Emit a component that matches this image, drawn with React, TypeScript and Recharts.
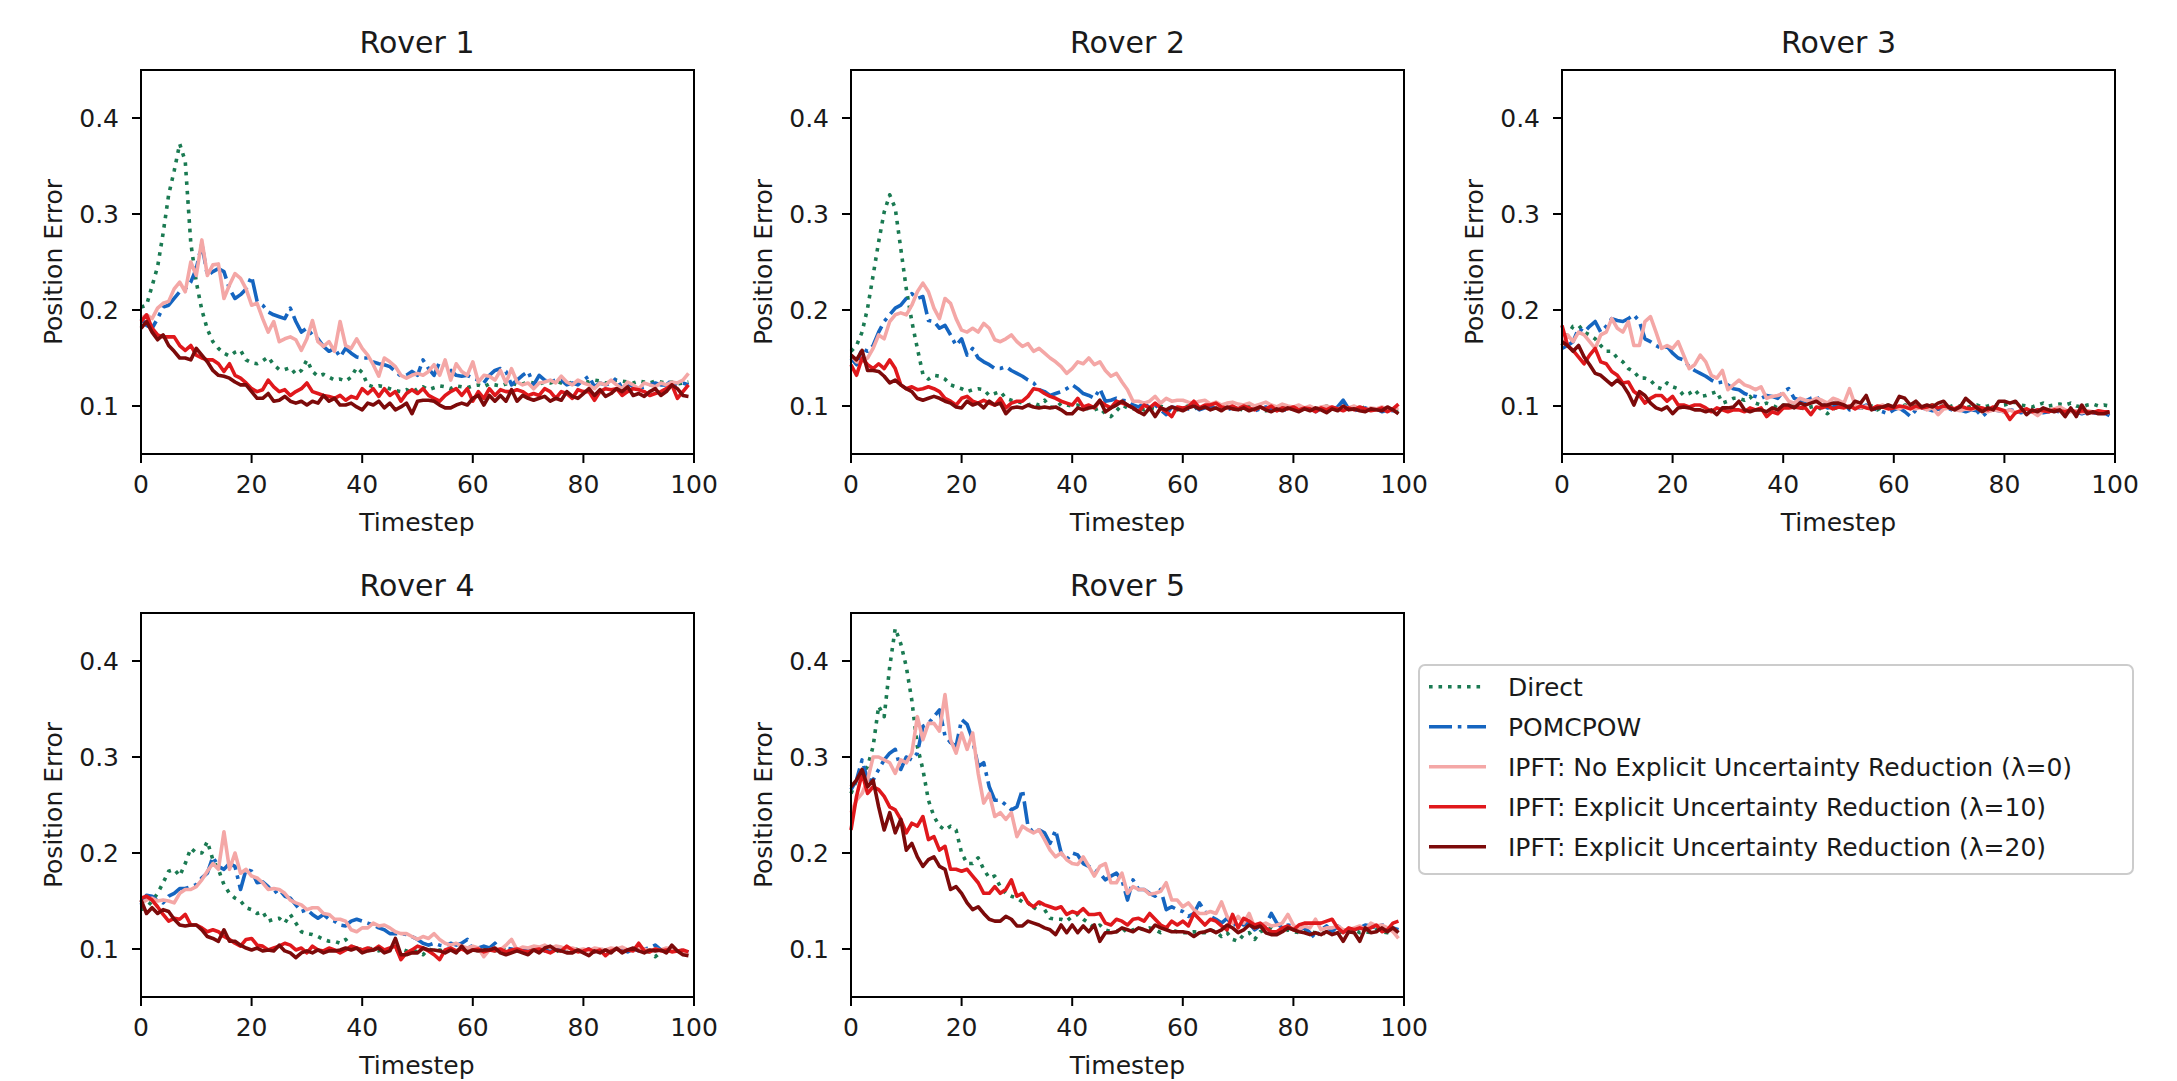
import React from 'react';
import { LineChart, Line, XAxis, YAxis, ReferenceArea } from 'recharts';

const timesteps: number[] = Array.from({ length: 100 }, (_, i) => i);
const xTicks = [0, 20, 40, 60, 80, 100];
const yTicks = [0.1, 0.2, 0.3, 0.4];
const roverTitles = ['Rover 1', 'Rover 2', 'Rover 3', 'Rover 4', 'Rover 5'];
const seriesNames = [
  'Direct',
  'POMCPOW',
  'IPFT: No Explicit Uncertainty Reduction (λ=0)',
  'IPFT: Explicit Uncertainty Reduction (λ=10)',
  'IPFT: Explicit Uncertainty Reduction (λ=20)',
];

// ---------- Rover 1 ----------
const r1Direct = [0.203,0.205,0.225,0.245,0.28,0.32,0.345,0.373,0.355,0.27, 0.229,0.2,0.18,0.167,0.16,0.155,0.152,0.156,0.158,0.148, 0.145,0.144,0.147,0.151,0.143,0.138,0.138,0.14,0.133,0.137, 0.148,0.136,0.131,0.133,0.13,0.127,0.128,0.126,0.13,0.14, 0.135,0.122,0.12,0.121,0.12,0.118,0.116,0.115,0.117,0.114, 0.118,0.12,0.117,0.119,0.121,0.12,0.118,0.121,0.12,0.119, 0.121,0.122,0.12,0.123,0.122,0.121,0.123,0.124,0.122,0.123, 0.125,0.124,0.123,0.125,0.124,0.126,0.124,0.123,0.125,0.124, 0.126,0.125,0.127,0.126,0.124,0.125,0.127,0.126,0.125,0.124, 0.126,0.125,0.124,0.126,0.125,0.124,0.125,0.123,0.124,0.125];
const r1Pomcpow = [0.191,0.184,0.181,0.191,0.203,0.205,0.212,0.219,0.222,0.229, 0.243,0.269,0.236,0.24,0.243,0.24,0.222,0.212,0.216,0.222, 0.235,0.209,0.205,0.198,0.195,0.193,0.191,0.202,0.188,0.177, 0.181,0.174,0.17,0.162,0.157,0.16,0.151,0.16,0.155,0.151, 0.15,0.15,0.146,0.144,0.143,0.141,0.136,0.131,0.132,0.136, 0.132,0.148,0.139,0.132,0.146,0.143,0.137,0.132,0.131,0.132, 0.129,0.127,0.124,0.132,0.137,0.139,0.136,0.122,0.127,0.132, 0.136,0.122,0.132,0.127,0.125,0.127,0.127,0.122,0.124,0.122, 0.127,0.131,0.12,0.124,0.122,0.124,0.129,0.118,0.124,0.12, 0.118,0.12,0.122,0.124,0.122,0.122,0.127,0.122,0.124,0.122];
const r1Ipft0 = [0.191,0.195,0.191,0.202,0.207,0.209,0.222,0.229,0.219,0.25, 0.236,0.273,0.236,0.247,0.248,0.212,0.226,0.238,0.233,0.222, 0.205,0.207,0.191,0.177,0.188,0.167,0.17,0.172,0.169,0.158, 0.17,0.189,0.167,0.162,0.167,0.157,0.188,0.163,0.16,0.17, 0.16,0.153,0.143,0.131,0.15,0.146,0.141,0.132,0.129,0.132, 0.134,0.132,0.136,0.143,0.132,0.148,0.127,0.144,0.136,0.132, 0.146,0.125,0.132,0.131,0.127,0.137,0.124,0.139,0.125,0.122, 0.124,0.118,0.124,0.125,0.127,0.124,0.131,0.125,0.122,0.127, 0.124,0.122,0.118,0.124,0.122,0.127,0.122,0.118,0.125,0.122, 0.118,0.124,0.122,0.12,0.124,0.122,0.125,0.124,0.127,0.134];
const r1Ipft10 = [0.188,0.195,0.181,0.174,0.172,0.172,0.172,0.163,0.158,0.163, 0.153,0.15,0.148,0.148,0.144,0.136,0.144,0.132,0.129,0.124, 0.118,0.115,0.117,0.127,0.12,0.115,0.117,0.111,0.115,0.118, 0.124,0.115,0.113,0.111,0.11,0.108,0.111,0.106,0.11,0.108, 0.118,0.113,0.118,0.11,0.118,0.111,0.115,0.105,0.113,0.117, 0.113,0.118,0.111,0.108,0.105,0.111,0.115,0.118,0.111,0.118, 0.105,0.115,0.108,0.118,0.111,0.117,0.115,0.115,0.117,0.115, 0.111,0.113,0.111,0.118,0.115,0.108,0.115,0.113,0.108,0.117, 0.115,0.115,0.106,0.115,0.118,0.117,0.118,0.111,0.115,0.118, 0.117,0.115,0.111,0.113,0.115,0.118,0.122,0.108,0.115,0.122];
const r1Ipft20 = [0.181,0.188,0.177,0.169,0.174,0.163,0.157,0.15,0.15,0.148, 0.16,0.153,0.146,0.137,0.132,0.131,0.129,0.125,0.122,0.122, 0.115,0.108,0.108,0.113,0.105,0.106,0.11,0.105,0.103,0.105, 0.101,0.105,0.103,0.111,0.105,0.108,0.101,0.101,0.103,0.099, 0.096,0.103,0.101,0.105,0.098,0.103,0.096,0.099,0.103,0.092, 0.105,0.106,0.106,0.105,0.101,0.098,0.098,0.101,0.103,0.101, 0.108,0.111,0.101,0.111,0.105,0.111,0.105,0.117,0.105,0.111, 0.108,0.106,0.108,0.11,0.105,0.108,0.106,0.115,0.11,0.108, 0.113,0.118,0.111,0.117,0.11,0.113,0.118,0.115,0.12,0.111, 0.113,0.11,0.115,0.118,0.111,0.115,0.122,0.118,0.111,0.11];

// ---------- Rover 2 ----------
const r2Direct = [0.157,0.163,0.177,0.202,0.236,0.271,0.302,0.32,0.306,0.264, 0.222,0.188,0.16,0.133,0.128,0.132,0.131,0.128,0.122,0.12, 0.118,0.115,0.117,0.118,0.117,0.111,0.113,0.115,0.108,0.106, 0.105,0.103,0.101,0.103,0.101,0.106,0.099,0.098,0.103,0.101, 0.1,0.101,0.098,0.097,0.096,0.098,0.092,0.089,0.095,0.101, 0.098,0.097,0.099,0.096,0.098,0.097,0.1,0.097,0.098,0.096, 0.098,0.1,0.097,0.099,0.1,0.096,0.1,0.098,0.097,0.098, 0.097,0.096,0.1,0.098,0.097,0.095,0.098,0.097,0.101,0.096, 0.098,0.097,0.095,0.099,0.098,0.097,0.1,0.096,0.098,0.097, 0.096,0.098,0.097,0.099,0.096,0.095,0.097,0.098,0.093,0.094];
const r2Pomcpow = [0.15,0.143,0.16,0.157,0.163,0.177,0.188,0.195,0.202,0.205, 0.212,0.217,0.212,0.214,0.189,0.188,0.181,0.184,0.174,0.163, 0.17,0.153,0.16,0.15,0.146,0.143,0.139,0.139,0.141,0.137, 0.134,0.131,0.127,0.124,0.117,0.115,0.111,0.113,0.115,0.118, 0.122,0.118,0.113,0.111,0.108,0.118,0.105,0.106,0.108,0.106, 0.105,0.101,0.099,0.103,0.098,0.101,0.096,0.091,0.099,0.098, 0.099,0.097,0.1,0.096,0.098,0.1,0.097,0.099,0.096,0.098, 0.097,0.099,0.096,0.095,0.097,0.099,0.096,0.098,0.097,0.095, 0.098,0.096,0.097,0.099,0.094,0.097,0.098,0.096,0.099,0.106, 0.097,0.095,0.097,0.098,0.096,0.097,0.094,0.096,0.095,0.097];
const r2Ipft0 = [0.153,0.146,0.146,0.15,0.16,0.174,0.17,0.188,0.195,0.197, 0.195,0.205,0.219,0.228,0.219,0.202,0.191,0.212,0.207,0.191, 0.179,0.177,0.181,0.177,0.186,0.181,0.169,0.167,0.17,0.174, 0.167,0.162,0.165,0.157,0.16,0.155,0.15,0.146,0.141,0.134, 0.139,0.146,0.144,0.15,0.143,0.146,0.137,0.131,0.134,0.125, 0.117,0.105,0.105,0.103,0.105,0.11,0.103,0.108,0.105,0.106, 0.106,0.104,0.103,0.105,0.106,0.102,0.104,0.101,0.103,0.104, 0.102,0.101,0.103,0.1,0.102,0.104,0.101,0.099,0.102,0.1, 0.099,0.101,0.098,0.1,0.097,0.099,0.1,0.098,0.097,0.099, 0.098,0.1,0.097,0.096,0.098,0.097,0.099,0.097,0.096,0.098];
const r2Ipft10 = [0.143,0.132,0.15,0.143,0.139,0.144,0.139,0.148,0.139,0.122, 0.118,0.12,0.117,0.118,0.12,0.118,0.115,0.108,0.105,0.101, 0.108,0.11,0.105,0.103,0.106,0.103,0.101,0.108,0.098,0.103, 0.105,0.105,0.11,0.118,0.117,0.113,0.11,0.108,0.105,0.103, 0.101,0.108,0.099,0.101,0.098,0.105,0.101,0.098,0.105,0.103, 0.101,0.098,0.094,0.101,0.098,0.103,0.098,0.094,0.089,0.099, 0.098,0.099,0.105,0.098,0.101,0.101,0.103,0.099,0.098,0.1, 0.097,0.1,0.098,0.096,0.099,0.097,0.1,0.095,0.098,0.097, 0.099,0.096,0.098,0.097,0.094,0.098,0.096,0.099,0.097,0.095, 0.098,0.096,0.099,0.097,0.095,0.096,0.098,0.094,0.097,0.102];
const r2Ipft20 = [0.153,0.148,0.158,0.137,0.137,0.136,0.131,0.124,0.127,0.122, 0.118,0.115,0.108,0.106,0.108,0.11,0.108,0.105,0.103,0.099, 0.098,0.105,0.101,0.103,0.098,0.105,0.101,0.103,0.092,0.098, 0.099,0.098,0.101,0.099,0.098,0.099,0.098,0.099,0.096,0.092, 0.092,0.098,0.096,0.098,0.099,0.106,0.094,0.098,0.101,0.105, 0.101,0.098,0.094,0.091,0.098,0.089,0.098,0.096,0.099,0.097, 0.095,0.098,0.1,0.097,0.099,0.096,0.098,0.095,0.099,0.097, 0.096,0.098,0.095,0.097,0.099,0.096,0.094,0.097,0.095,0.098, 0.096,0.094,0.097,0.095,0.098,0.096,0.093,0.097,0.095,0.1, 0.096,0.097,0.095,0.094,0.097,0.096,0.095,0.099,0.096,0.092];

// ---------- Rover 3 ----------
const r3Direct = [0.163,0.174,0.183,0.184,0.177,0.174,0.17,0.163,0.157,0.157, 0.15,0.146,0.139,0.136,0.129,0.129,0.127,0.12,0.118,0.124, 0.12,0.118,0.111,0.113,0.117,0.11,0.111,0.113,0.115,0.103, 0.105,0.108,0.108,0.106,0.11,0.103,0.101,0.103,0.101,0.098, 0.101,0.099,0.1,0.098,0.097,0.099,0.1,0.096,0.092,0.097, 0.099,0.1,0.098,0.101,0.099,0.097,0.1,0.096,0.099,0.101, 0.1,0.098,0.101,0.099,0.1,0.098,0.1,0.101,0.099,0.1, 0.099,0.101,0.1,0.098,0.1,0.101,0.099,0.1,0.102,0.1, 0.101,0.103,0.104,0.101,0.1,0.099,0.101,0.103,0.1,0.101, 0.102,0.101,0.103,0.1,0.099,0.101,0.102,0.1,0.101,0.1];
const r3Pomcpow = [0.16,0.163,0.167,0.181,0.177,0.183,0.188,0.177,0.183,0.191, 0.189,0.188,0.191,0.195,0.188,0.17,0.167,0.163,0.16,0.162, 0.155,0.15,0.148,0.141,0.137,0.134,0.131,0.127,0.124,0.125, 0.122,0.118,0.117,0.113,0.111,0.11,0.108,0.111,0.11,0.108, 0.115,0.118,0.108,0.106,0.105,0.108,0.11,0.103,0.098,0.099, 0.101,0.103,0.096,0.099,0.098,0.101,0.098,0.096,0.094,0.092, 0.096,0.098,0.094,0.089,0.096,0.098,0.097,0.095,0.097,0.096, 0.097,0.095,0.096,0.094,0.096,0.095,0.089,0.094,0.096,0.095, 0.094,0.096,0.095,0.093,0.095,0.094,0.096,0.093,0.094,0.095, 0.094,0.093,0.095,0.094,0.092,0.094,0.093,0.092,0.093,0.09];
const r3Ipft0 = [0.163,0.174,0.167,0.177,0.174,0.167,0.16,0.174,0.177,0.191, 0.181,0.177,0.188,0.163,0.163,0.188,0.193,0.177,0.16,0.163, 0.16,0.167,0.153,0.139,0.143,0.153,0.146,0.132,0.129,0.137, 0.117,0.122,0.127,0.122,0.12,0.117,0.12,0.108,0.11,0.111, 0.113,0.105,0.103,0.108,0.106,0.105,0.108,0.106,0.103,0.108, 0.106,0.103,0.118,0.101,0.098,0.1,0.097,0.099,0.101,0.098, 0.099,0.097,0.1,0.098,0.097,0.099,0.096,0.098,0.091,0.097, 0.098,0.096,0.095,0.097,0.096,0.098,0.095,0.094,0.096,0.095, 0.094,0.096,0.093,0.095,0.097,0.094,0.09,0.095,0.096,0.097, 0.099,0.096,0.094,0.095,0.093,0.095,0.094,0.093,0.094,0.093];
const r3Ipft10 = [0.184,0.163,0.158,0.151,0.144,0.153,0.16,0.146,0.144,0.136, 0.132,0.124,0.125,0.115,0.111,0.103,0.108,0.111,0.111,0.105, 0.11,0.101,0.101,0.099,0.101,0.101,0.098,0.094,0.098,0.096, 0.094,0.096,0.096,0.094,0.098,0.096,0.098,0.089,0.094,0.092, 0.098,0.098,0.099,0.098,0.098,0.091,0.099,0.098,0.1,0.097, 0.099,0.098,0.1,0.097,0.1,0.098,0.097,0.1,0.099,0.097, 0.098,0.1,0.099,0.097,0.1,0.098,0.099,0.101,0.098,0.1, 0.099,0.097,0.1,0.098,0.097,0.099,0.098,0.096,0.099,0.097, 0.095,0.086,0.093,0.095,0.097,0.094,0.096,0.095,0.094,0.096, 0.095,0.094,0.096,0.093,0.095,0.094,0.093,0.095,0.094,0.094];
const r3Ipft20 = [0.167,0.163,0.157,0.163,0.151,0.143,0.134,0.132,0.127,0.122, 0.127,0.122,0.113,0.101,0.115,0.111,0.103,0.098,0.096,0.099, 0.092,0.098,0.099,0.098,0.096,0.096,0.094,0.096,0.091,0.098, 0.098,0.099,0.105,0.096,0.094,0.096,0.096,0.094,0.098,0.096, 0.101,0.101,0.098,0.103,0.101,0.103,0.105,0.101,0.101,0.103, 0.103,0.101,0.098,0.105,0.103,0.111,0.096,0.098,0.099,0.101, 0.099,0.11,0.108,0.101,0.105,0.099,0.101,0.099,0.103,0.105, 0.098,0.096,0.099,0.108,0.103,0.098,0.094,0.098,0.096,0.105, 0.105,0.103,0.105,0.098,0.091,0.096,0.094,0.098,0.096,0.094, 0.096,0.089,0.098,0.089,0.101,0.092,0.094,0.092,0.092,0.094];

// ---------- Rover 4 ----------
const r4Direct = [0.141,0.143,0.15,0.158,0.169,0.181,0.183,0.176,0.189,0.205, 0.2,0.2,0.212,0.193,0.183,0.167,0.158,0.153,0.15,0.143, 0.141,0.137,0.139,0.129,0.131,0.132,0.127,0.136,0.127,0.118, 0.116,0.115,0.113,0.11,0.108,0.108,0.106,0.11,0.103,0.101, 0.099,0.101,0.1,0.098,0.1,0.099,0.097,0.1,0.098,0.099, 0.097,0.094,0.1,0.098,0.099,0.097,0.1,0.098,0.1,0.099, 0.1,0.098,0.099,0.1,0.098,0.1,0.099,0.097,0.1,0.098, 0.099,0.1,0.098,0.1,0.099,0.097,0.1,0.098,0.099,0.1, 0.098,0.1,0.099,0.097,0.1,0.098,0.1,0.099,0.098,0.1, 0.099,0.098,0.097,0.092,0.097,0.099,0.098,0.1,0.097,0.096];
const r4Pomcpow = [0.146,0.156,0.155,0.15,0.148,0.155,0.158,0.163,0.163,0.165, 0.167,0.174,0.179,0.196,0.186,0.183,0.189,0.186,0.162,0.183, 0.181,0.169,0.17,0.165,0.158,0.162,0.155,0.153,0.146,0.139, 0.141,0.136,0.132,0.136,0.131,0.129,0.125,0.124,0.129,0.131, 0.129,0.127,0.125,0.122,0.12,0.116,0.116,0.116,0.115,0.113, 0.11,0.106,0.104,0.106,0.104,0.103,0.106,0.104,0.106,0.11, 0.099,0.101,0.103,0.101,0.106,0.099,0.101,0.1,0.098,0.101, 0.1,0.099,0.101,0.098,0.1,0.099,0.1,0.098,0.1,0.099, 0.098,0.1,0.097,0.099,0.1,0.098,0.1,0.099,0.097,0.1, 0.098,0.1,0.101,0.104,0.099,0.098,0.1,0.097,0.099,0.097];
const r4Ipft0 = [0.148,0.151,0.153,0.15,0.151,0.15,0.148,0.158,0.162,0.162, 0.165,0.172,0.181,0.189,0.183,0.222,0.183,0.2,0.179,0.183, 0.176,0.174,0.169,0.162,0.163,0.162,0.158,0.151,0.148,0.146, 0.141,0.143,0.143,0.137,0.136,0.131,0.131,0.129,0.12,0.118, 0.122,0.122,0.127,0.124,0.125,0.122,0.118,0.116,0.116,0.113, 0.11,0.113,0.111,0.116,0.11,0.106,0.104,0.106,0.103,0.101, 0.103,0.101,0.092,0.099,0.101,0.099,0.104,0.11,0.099,0.102, 0.101,0.103,0.102,0.104,0.101,0.103,0.102,0.1,0.101,0.099, 0.1,0.098,0.101,0.1,0.099,0.101,0.1,0.102,0.099,0.1, 0.101,0.1,0.098,0.1,0.099,0.101,0.1,0.098,0.097,0.094];
const r4Ipft10 = [0.153,0.155,0.151,0.144,0.136,0.129,0.132,0.131,0.136,0.125, 0.125,0.122,0.118,0.12,0.118,0.113,0.11,0.106,0.103,0.11, 0.111,0.104,0.103,0.099,0.101,0.103,0.106,0.104,0.099,0.101, 0.096,0.103,0.099,0.098,0.101,0.099,0.096,0.099,0.103,0.101, 0.099,0.101,0.099,0.103,0.099,0.101,0.103,0.089,0.096,0.099, 0.103,0.101,0.098,0.094,0.089,0.099,0.101,0.098,0.1,0.097, 0.099,0.1,0.097,0.099,0.098,0.1,0.097,0.099,0.1,0.098, 0.097,0.099,0.1,0.098,0.096,0.099,0.098,0.103,0.099,0.097, 0.098,0.1,0.097,0.099,0.093,0.098,0.1,0.097,0.099,0.098, 0.106,0.098,0.097,0.1,0.098,0.099,0.097,0.098,0.099,0.097];
const r4Ipft20 = [0.151,0.137,0.143,0.137,0.141,0.139,0.131,0.125,0.124,0.125, 0.125,0.12,0.113,0.111,0.108,0.12,0.108,0.108,0.104,0.101, 0.099,0.101,0.098,0.099,0.098,0.104,0.098,0.096,0.091,0.096, 0.098,0.096,0.099,0.096,0.098,0.098,0.099,0.101,0.099,0.101, 0.096,0.098,0.099,0.101,0.096,0.098,0.111,0.094,0.094,0.096, 0.096,0.101,0.099,0.099,0.098,0.096,0.099,0.096,0.103,0.096, 0.099,0.098,0.099,0.099,0.101,0.096,0.094,0.096,0.098,0.096, 0.094,0.099,0.096,0.101,0.103,0.099,0.098,0.096,0.096,0.099, 0.096,0.093,0.098,0.096,0.099,0.096,0.101,0.096,0.099,0.101, 0.098,0.096,0.099,0.098,0.099,0.096,0.104,0.098,0.094,0.093];

// ---------- Rover 5 ----------
const r5Direct = [0.262,0.276,0.283,0.29,0.311,0.353,0.342,0.394,0.434,0.418, 0.394,0.359,0.311,0.287,0.255,0.238,0.228,0.224,0.228,0.224, 0.2,0.189,0.189,0.195,0.183,0.174,0.176,0.165,0.158,0.155, 0.153,0.149,0.149,0.141,0.149,0.141,0.132,0.131,0.131,0.129, 0.134,0.136,0.131,0.127,0.122,0.125,0.12,0.118,0.118,0.122, 0.117,0.12,0.122,0.12,0.122,0.12,0.117,0.122,0.12,0.118, 0.117,0.117,0.118,0.117,0.117,0.12,0.118,0.113,0.117,0.11, 0.108,0.115,0.117,0.11,0.118,0.12,0.122,0.118,0.117,0.12, 0.118,0.117,0.12,0.118,0.117,0.118,0.115,0.118,0.117,0.118, 0.117,0.12,0.117,0.118,0.117,0.12,0.118,0.117,0.12,0.113];
const r5Pomcpow = [0.266,0.276,0.297,0.276,0.276,0.287,0.297,0.304,0.308,0.287, 0.3,0.297,0.304,0.332,0.335,0.342,0.349,0.322,0.315,0.311, 0.339,0.334,0.318,0.29,0.294,0.269,0.255,0.255,0.25,0.245, 0.248,0.266,0.228,0.221,0.224,0.221,0.21,0.224,0.2,0.193, 0.2,0.198,0.189,0.186,0.183,0.179,0.172,0.176,0.179,0.172, 0.151,0.172,0.162,0.162,0.158,0.155,0.162,0.141,0.144,0.141, 0.139,0.134,0.137,0.148,0.139,0.134,0.131,0.127,0.132,0.124, 0.129,0.125,0.127,0.12,0.124,0.125,0.137,0.127,0.122,0.125, 0.124,0.12,0.122,0.117,0.111,0.12,0.124,0.118,0.124,0.12, 0.117,0.12,0.122,0.125,0.124,0.122,0.125,0.124,0.122,0.12];
const r5Ipft0 = [0.242,0.255,0.262,0.276,0.3,0.3,0.297,0.294,0.283,0.297, 0.294,0.304,0.342,0.318,0.335,0.335,0.327,0.365,0.318,0.304, 0.325,0.308,0.325,0.283,0.252,0.262,0.238,0.242,0.235,0.242, 0.217,0.228,0.224,0.221,0.224,0.214,0.203,0.196,0.2,0.193, 0.189,0.188,0.196,0.186,0.176,0.186,0.189,0.169,0.169,0.179, 0.158,0.165,0.162,0.162,0.157,0.158,0.16,0.169,0.151,0.151, 0.144,0.148,0.141,0.137,0.137,0.139,0.137,0.149,0.134,0.127, 0.134,0.127,0.137,0.122,0.125,0.127,0.124,0.125,0.127,0.136, 0.125,0.12,0.124,0.122,0.131,0.12,0.122,0.122,0.124,0.12, 0.12,0.122,0.124,0.12,0.127,0.124,0.125,0.122,0.118,0.111];
const r5Ipft10 = [0.224,0.259,0.283,0.262,0.269,0.266,0.259,0.248,0.245,0.235, 0.221,0.231,0.228,0.238,0.214,0.217,0.203,0.207,0.183,0.183, 0.181,0.183,0.176,0.169,0.158,0.158,0.165,0.158,0.162,0.172, 0.155,0.158,0.148,0.144,0.149,0.146,0.144,0.142,0.144,0.136, 0.139,0.137,0.142,0.136,0.136,0.137,0.127,0.125,0.131,0.129, 0.125,0.131,0.132,0.129,0.137,0.131,0.125,0.122,0.129,0.125, 0.129,0.124,0.137,0.131,0.125,0.131,0.129,0.124,0.12,0.136, 0.122,0.132,0.129,0.125,0.127,0.122,0.118,0.118,0.122,0.124, 0.12,0.125,0.127,0.127,0.127,0.127,0.129,0.131,0.122,0.117, 0.122,0.12,0.122,0.12,0.122,0.125,0.118,0.12,0.127,0.129];
const r5Ipft20 = [0.269,0.276,0.287,0.269,0.276,0.248,0.224,0.242,0.221,0.235, 0.203,0.21,0.196,0.186,0.193,0.196,0.186,0.183,0.162,0.165, 0.158,0.148,0.141,0.144,0.137,0.131,0.129,0.129,0.134,0.131, 0.124,0.124,0.129,0.127,0.125,0.122,0.12,0.115,0.125,0.117, 0.125,0.117,0.124,0.118,0.125,0.108,0.117,0.117,0.118,0.122, 0.12,0.118,0.122,0.12,0.118,0.125,0.122,0.12,0.118,0.118, 0.118,0.117,0.113,0.117,0.118,0.12,0.117,0.12,0.125,0.122, 0.117,0.12,0.125,0.122,0.124,0.117,0.115,0.115,0.118,0.122, 0.12,0.118,0.117,0.115,0.117,0.115,0.118,0.115,0.117,0.108, 0.118,0.117,0.108,0.122,0.117,0.118,0.122,0.118,0.122,0.117];

const roverSeries: number[][][] = [
  [r1Direct, r1Pomcpow, r1Ipft0, r1Ipft10, r1Ipft20],
  [r2Direct, r2Pomcpow, r2Ipft0, r2Ipft10, r2Ipft20],
  [r3Direct, r3Pomcpow, r3Ipft0, r3Ipft10, r3Ipft20],
  [r4Direct, r4Pomcpow, r4Ipft0, r4Ipft10, r4Ipft20],
  [r5Direct, r5Pomcpow, r5Ipft0, r5Ipft10, r5Ipft20],
];

// ---------- styling ----------
const FONT = 'DejaVu Sans';
const TEXT = '#1a1a1a';
const LW = 3.6;
const seriesStyles = [
  { color: '#1a7a52', dash: '3.6 5.9' },
  { color: '#1565c0', dash: '23 5.8 3.6 5.8' },
  { color: '#f4a7a6', dash: undefined as string | undefined },
  { color: '#e0181c', dash: undefined as string | undefined },
  { color: '#7c0a0a', dash: undefined as string | undefined },
];

const PW = 553; // plot width
const PH = 384; // plot height
const YW = 140; // y-axis area width
const MT = 10;
const MR = 40;
const XH = 90;

const panelPos = [
  { left: 140.5, top: 70 },
  { left: 851, top: 70 },
  { left: 1562, top: 70 },
  { left: 140.5, top: 613 },
  { left: 851, top: 613 },
];

function buildData(series: number[][]) {
  return timesteps.map((t, i) => {
    const row: Record<string, number> = { t };
    series.forEach((s, k) => {
      row['s' + k] = s[i];
    });
    return row;
  });
}

function Panel({ idx }: { idx: number }) {
  const pos = panelPos[idx];
  const data = buildData(roverSeries[idx]);
  return (
    <div style={{ position: 'absolute', left: pos.left - YW, top: pos.top - MT }}>
      <LineChart
        width={YW + PW + MR}
        height={MT + PH + XH}
        data={data}
        margin={{ top: MT, right: MR, bottom: 0, left: 0 }}
      >
        <XAxis
          dataKey="t"
          type="number"
          domain={[0, 100]}
          ticks={xTicks}
          interval={0}
          height={XH}
          tickSize={9}
          tickMargin={12}
          axisLine={{ stroke: '#000', strokeWidth: 2 }}
          tickLine={{ stroke: '#000', strokeWidth: 2 }}
          tick={{ fill: TEXT, fontSize: 25, fontFamily: FONT }}
        />
        <YAxis
          type="number"
          domain={[0.05, 0.45]}
          ticks={yTicks}
          interval={0}
          width={YW}
          tickSize={9}
          tickMargin={13}
          tickFormatter={(v: number) => v.toFixed(1)}
          axisLine={{ stroke: '#000', strokeWidth: 2 }}
          tickLine={{ stroke: '#000', strokeWidth: 2 }}
          tick={{ fill: TEXT, fontSize: 25, fontFamily: FONT }}
        />
        <ReferenceArea
          x1={0}
          x2={100}
          y1={0.05}
          y2={0.45}
          fill="none"
          fillOpacity={0}
          stroke="#000"
          strokeWidth={2}
          ifOverflow="visible"
        />
        {seriesStyles.map((st, k) => (
          <Line
            key={k}
            dataKey={'s' + k}
            name={seriesNames[k]}
            type="linear"
            stroke={st.color}
            strokeWidth={LW}
            strokeDasharray={st.dash}
            strokeLinejoin="round"
            dot={false}
            activeDot={false}
            isAnimationActive={false}
          />
        ))}
      </LineChart>
    </div>
  );
}

function Overlay() {
  const legendX = 1419;
  const legendY = 665;
  return (
    <svg
      width={2177}
      height={1081}
      style={{ position: 'absolute', left: 0, top: 0, pointerEvents: 'none' }}
    >
      {panelPos.map((p, i) => {
        const cx = p.left + PW / 2;
        const cy = p.top + PH / 2;
        return (
          <g key={i} fontFamily={FONT} fill={TEXT}>
            <text x={cx} y={p.top - 17} fontSize={30} textAnchor="middle">
              {roverTitles[i]}
            </text>
            <text x={cx} y={p.top + PH + 77} fontSize={25} textAnchor="middle">
              Timestep
            </text>
            <text
              fontSize={25}
              textAnchor="middle"
              transform={`translate(${p.left - 79}, ${cy}) rotate(-90)`}
            >
              Position Error
            </text>
          </g>
        );
      })}
      <rect
        x={legendX}
        y={legendY}
        width={714}
        height={209}
        rx={6}
        fill="#ffffff"
        fillOpacity={0.8}
        stroke="#cccccc"
        strokeWidth={2}
      />
      {seriesStyles.map((st, k) => {
        const y = legendY + 21.7 + 40 * k;
        return (
          <g key={k}>
            <line
              x1={legendX + 10}
              x2={legendX + 67}
              y1={y}
              y2={y}
              stroke={st.color}
              strokeWidth={LW}
              strokeDasharray={st.dash}
            />
            <text x={legendX + 89} y={y + 9.5} fontSize={25} fontFamily={FONT} fill={TEXT}>
              {seriesNames[k]}
            </text>
          </g>
        );
      })}
    </svg>
  );
}

export default function App() {
  return (
    <div
      style={{
        position: 'absolute',
        left: 0,
        top: 0,
        width: 2177,
        height: 1081,
        background: '#fff',
        overflow: 'hidden',
      }}
    >
      {panelPos.map((_, i) => (
        <Panel key={i} idx={i} />
      ))}
      <Overlay />
    </div>
  );
}
